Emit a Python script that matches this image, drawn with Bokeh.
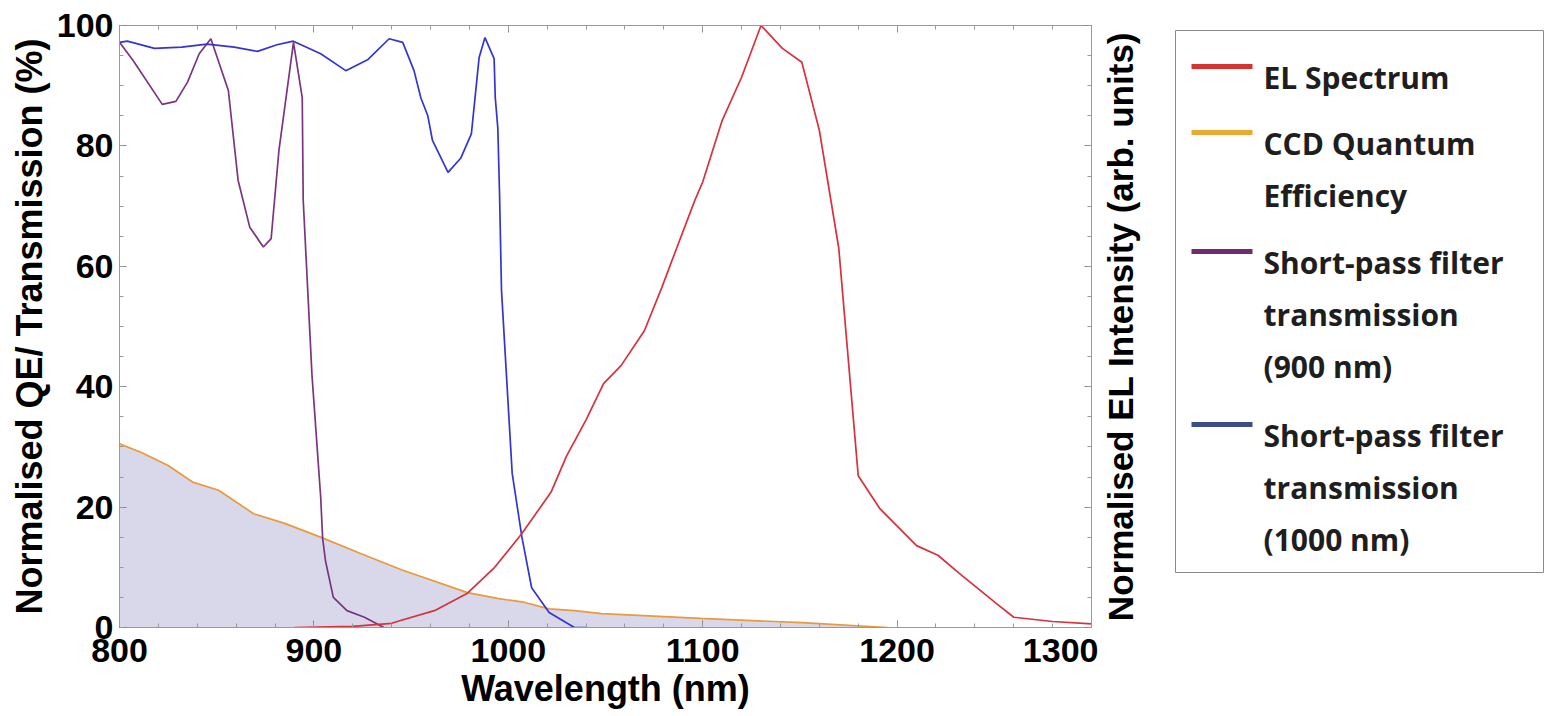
import math
from bokeh.plotting import figure
from bokeh.layouts import row
from bokeh.models import (LinearAxis, Label, Range1d,
                          SingleIntervalTicker, CustomJSTickFormatter)
from bokeh.core.properties import value
from bokeh.embed import file_html
from bokeh.resources import INLINE

# ---- data ----
qe_wl = [800, 811, 825, 838, 851, 869, 885, 905, 924, 945, 979, 995, 1008, 1021, 1034, 1048, 1099, 1151, 1195]
qe_val = [30.5, 29.1, 26.9, 24.1, 22.8, 18.9, 17.3, 14.8, 12.3, 9.6, 5.8, 4.8, 4.2, 3.1, 2.8, 2.3, 1.5, 0.8, 0.0]

sp900_wl = [800, 807, 822, 829, 835, 841, 847, 856, 861, 867, 874, 878, 882, 889.5, 894, 894.5,
            899, 903.5, 904.5, 906, 910, 917, 926, 936]
sp900_val = [97.2, 94.2, 86.9, 87.4, 90.6, 95.3, 97.8, 89.2, 74.3, 66.5, 63.2, 64.6, 79.2, 97.2, 88, 71,
             42, 21.6, 14.8, 11, 5, 2.8, 1.7, 0]

sp1000_wl = [800, 804, 818, 832, 845, 859, 871, 881, 889.4, 903.5, 916.4, 927.6, 938.7, 945.7, 951.5,
             955, 958.6, 961, 969, 975.6, 981, 985, 988, 992.7, 993.3, 994.6, 995.5, 996.5, 1002,
             1007, 1012, 1021, 1034, 1040]
sp1000_val = [97.2, 97.4, 96.2, 96.4, 96.9, 96.4, 95.7, 96.8, 97.4, 95.3, 92.5, 94.3, 97.8, 97.2, 92.5,
              88, 85, 80.9, 75.6, 78, 82, 94.7, 98, 94.5, 88, 83, 72, 56, 25.6,
              15, 6.6, 2.5, 0, 0]

el_wl = [890, 920, 940, 945, 962, 979, 993, 1007, 1022, 1030, 1040, 1049, 1058, 1070, 1079, 1086,
         1096, 1100, 1110, 1120, 1130, 1141, 1151, 1160, 1170, 1180, 1191, 1210, 1221, 1232, 1251,
         1260, 1280, 1300]
el_val = [0, 0.2, 0.7, 1.2, 2.8, 5.7, 10, 15.6, 22.5, 28.5, 34.5, 40.5, 43.5, 49.3, 56.5, 62.5,
          71, 74, 84.2, 91.4, 100, 96.2, 93.9, 82.6, 63, 25.2, 19.8, 13.6, 12, 9, 4,
          1.7, 1, 0.6]

legend_labels = [["EL Spectrum"],
                 ["CCD Quantum", "Efficiency"],
                 ["Short-pass filter", "transmission", "(900 nm)"],
                 ["Short-pass filter", "transmission", "(1000 nm)"]]
legend_colors = ["#d63232", "#eaaa32", "#6e2d6e", "#3a4f88"]
right_title = "Normalised EL Intensity (arb. units)"

AX_FONT = "Liberation Sans"
TOTAL_W, TOTAL_H = 1544, 714
FL, FT, FW, FH = 119, 25, 972, 602
FB = FT + FH
MAIN_W = FL + FW + 7

p = figure(frame_width=FW, frame_height=FH,
           x_range=Range1d(800, 1300), y_range=Range1d(0, 100),
           output_backend="svg", toolbar_location=None,
           min_border_left=FL, min_border_right=7, min_border_top=FT,
           min_border_bottom=TOTAL_H - FB,
           x_axis_label="Wavelength (nm)", y_axis_label="Normalised QE/ Transmission (%)")
p.grid.visible = False
p.outline_line_color = "#999999"

bottom = p.below[0]
left = p.left[0]

# data glyphs
p.varea(x=qe_wl, y1=0, y2=qe_val, fill_color="#d8d8ea")
p.line(qe_wl, qe_val, line_color="#e89a3c", line_width=1.7)
p.line(sp900_wl, sp900_val, line_color="#7a3580", line_width=1.7)
p.line(sp1000_wl, sp1000_val, line_color="#3434d4", line_width=1.7)
p.line(el_wl, el_val, line_color="#d8303c", line_width=1.7)

bottom.ticker = SingleIntervalTicker(interval=100, num_minor_ticks=5)
left.ticker = SingleIntervalTicker(interval=20, num_minor_ticks=4)

blank = CustomJSTickFormatter(code="return ''")
top = LinearAxis(ticker=SingleIntervalTicker(interval=100, num_minor_ticks=5), formatter=blank)
right = LinearAxis(ticker=SingleIntervalTicker(interval=20, num_minor_ticks=4), formatter=blank)
p.add_layout(top, "above")
p.add_layout(right, "right")

for ax in [bottom, left, top, right]:
    ax.axis_line_color = "#999999"
    ax.major_tick_line_color = "#888888"
    ax.minor_tick_line_color = "#999999"
    ax.major_tick_in = 7
    ax.major_tick_out = 0
    ax.minor_tick_in = 4
    ax.minor_tick_out = 0
    ax.major_label_text_font = AX_FONT
    ax.major_label_text_font_style = "bold"
    ax.major_label_text_font_size = "34px"
    ax.major_label_text_color = "black"
    ax.axis_label_text_font = AX_FONT
    ax.axis_label_text_font_style = "bold"
    ax.axis_label_text_font_size = "36px"
    ax.axis_label_text_color = "black"

for ax in [top, right]:
    ax.major_label_standoff = 0

bottom.major_label_standoff = 11
bottom.axis_label_standoff = 3
left.major_label_standoff = 6
left.axis_label_standoff = 4

# ---- side panel: right-hand axis title + legend, in page-pixel coordinates ----
# (p2's frame is aligned with p's frame vertically: y runs from FB (0) up to FT (FH))
P2W = TOTAL_W - MAIN_W
p2 = figure(width=P2W, height=TOTAL_H,
            x_range=Range1d(MAIN_W, TOTAL_W), y_range=Range1d(FB, FT),
            output_backend="svg", toolbar_location=None,
            x_axis_location=None, y_axis_location=None,
            min_border_left=0, min_border_right=0, min_border_top=FT, min_border_bottom=TOTAL_H - FB)
p2.grid.visible = False
p2.outline_line_color = None

p2.add_layout(Label(x=1120, y=(FT + FB) / 2,
                    text=right_title, angle=math.pi / 2,
                    text_align="center", text_baseline="middle",
                    text_font=AX_FONT, text_font_style="bold", text_font_size="35px",
                    text_color="black"))

# legend box
LB_L, LB_R, LB_T, LB_B = 1175, 1543, 30, 572
p2.quad(left=[LB_L], right=[LB_R], top=[LB_T], bottom=[LB_B],
        fill_color="white", line_color="#8a8a8a", line_width=1)

first_baselines = [77, 143, 262, 435]
PITCH = 52
SW_X0, SW_X1, TXT_X = 1191, 1252, 1263
sw_y = [b - 11 for b in first_baselines]
p2.segment(x0=[SW_X0] * 4, x1=[SW_X1] * 4, y0=sw_y, y1=sw_y,
           line_color=legend_colors, line_width=5)

tx, ty, tt = [], [], []
for base, lines in zip(first_baselines, legend_labels):
    for k, s in enumerate(lines):
        tx.append(TXT_X)
        ty.append(base + k * PITCH)
        tt.append(s)
p2.text(x=tx, y=ty, text=tt, text_font=value("Open Sans"), text_font_style="bold",
        text_font_size="30px", text_color="#1e1e1e",
        text_align="left", text_baseline="alphabetic")

layout = row(p, p2, spacing=0)
open("out.html", "w").write(file_html(layout, INLINE))
